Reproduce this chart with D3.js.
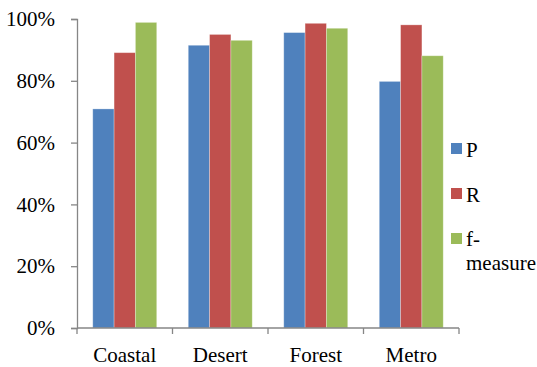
<!DOCTYPE html>
<html>
<head>
<meta charset="utf-8">
<script src="https://cdn.jsdelivr.net/npm/d3@7"></script>
<style>
  html, body { margin: 0; padding: 0; background: #fff; }
  svg { display: block; }
  svg text { font-family: "Times New Roman", "Liberation Serif", serif !important; fill: #000; }
</style>
</head>
<body>
<svg id="chart" width="537" height="367" font-family="Liberation Serif, serif"></svg>
<script>
// Categories and series (fractions of 1)
const categories = ["Coastal", "Desert", "Forest", "Metro"];
const seriesNames = ["P", "R", "f-measure"];
const valuesP = [0.709, 0.915, 0.956, 0.798];
const valuesR = [0.891, 0.950, 0.986, 0.981];
const valuesF = [0.989, 0.931, 0.970, 0.881];
const yTicks = [0, 0.2, 0.4, 0.6, 0.8, 1.0];
const colors = ["#4F81BD", "#C0504D", "#9BBB59"];

const series = [valuesP, valuesR, valuesF];
const rows = categories.map((c, i) => ({
  category: c,
  values: series.map((s, k) => ({ key: seriesNames[k], value: s[i] }))
}));

const svg = d3.select("#chart");
const plotLeft = 77, plotRight = 459, plotTop = 19, plotBottom = 328;
const fontSize = 21;

const x = d3.scaleBand().domain(categories).range([plotLeft, plotRight]).paddingInner(0).paddingOuter(0);
const x1 = d3.scaleBand().domain(seriesNames).range([0, x.bandwidth()]).paddingInner(0).paddingOuter(0.74);
const y = d3.scaleLinear().domain([0, 1]).range([plotBottom, plotTop]);

// Bars
const groups = svg.append("g").selectAll("g")
  .data(rows).join("g")
  .attr("transform", d => `translate(${x(d.category)},0)`);

groups.selectAll("rect")
  .data(d => d.values).join("rect")
  .attr("x", d => x1(d.key))
  .attr("width", x1.bandwidth())
  .attr("y", d => y(d.value))
  .attr("height", d => y(0) - y(d.value))
  .attr("fill", (d, i) => colors[i])
  .attr("stroke", "rgba(255,255,255,0.35)")
  .attr("stroke-width", 0.8);

// Y axis
const yAxis = d3.axisLeft(y).tickValues(yTicks).tickFormat(d3.format(".0%")).tickSizeOuter(0).tickSize(6).tickPadding(16);
const gy = svg.append("g").attr("transform", `translate(${plotLeft},0)`).call(yAxis)
  .attr("font-family", null).attr("font-size", null);
gy.select(".domain").attr("stroke", "#868686").attr("stroke-width", 1.3);
gy.selectAll(".tick line").attr("stroke", "#868686").attr("stroke-width", 1.3);
gy.selectAll(".tick text")
  .style("font-size", fontSize + "px")
  .attr("fill", "#000")
  .attr("dy", "0.32em");

// X axis: ticks at category boundaries
const gx = svg.append("g").attr("transform", `translate(0,${plotBottom})`);
gx.append("line")
  .attr("x1", plotLeft).attr("x2", plotRight)
  .attr("stroke", "#868686").attr("stroke-width", 1.3);
const boundaries = categories.map(c => x(c)).concat([x(categories[categories.length - 1]) + x.bandwidth()]);
gx.selectAll("line.tk").data(boundaries).join("line")
  .attr("class", "tk")
  .attr("x1", d => d).attr("x2", d => d)
  .attr("y1", 0).attr("y2", 6)
  .attr("stroke", "#868686").attr("stroke-width", 1.3);
gx.selectAll("text").data(categories).join("text")
  .attr("x", d => x(d) + x.bandwidth() / 2)
  .attr("y", 34)
  .attr("text-anchor", "middle")
  .style("font-size", fontSize + "px")
  .text(d => d);

// Legend
const legend = svg.append("g");
const legendRows = [
  { lines: ["P"], sy: 143, ty: 157 },
  { lines: ["R"], sy: 188, ty: 201.5 },
  { lines: ["f-", "measure"], sy: 233, ty: 246 }
];
legendRows.forEach((r, i) => {
  legend.append("rect")
    .attr("x", 451).attr("y", r.sy)
    .attr("width", 11).attr("height", 11)
    .attr("fill", colors[i]);
  const t = legend.append("text")
    .attr("x", 466).attr("y", r.ty)
    .style("font-size", fontSize + "px");
  r.lines.forEach((ln, j) => {
    t.append("tspan").attr("x", 466).attr("dy", j === 0 ? 0 : 24).text(ln);
  });
});
</script>
</body>
</html>
